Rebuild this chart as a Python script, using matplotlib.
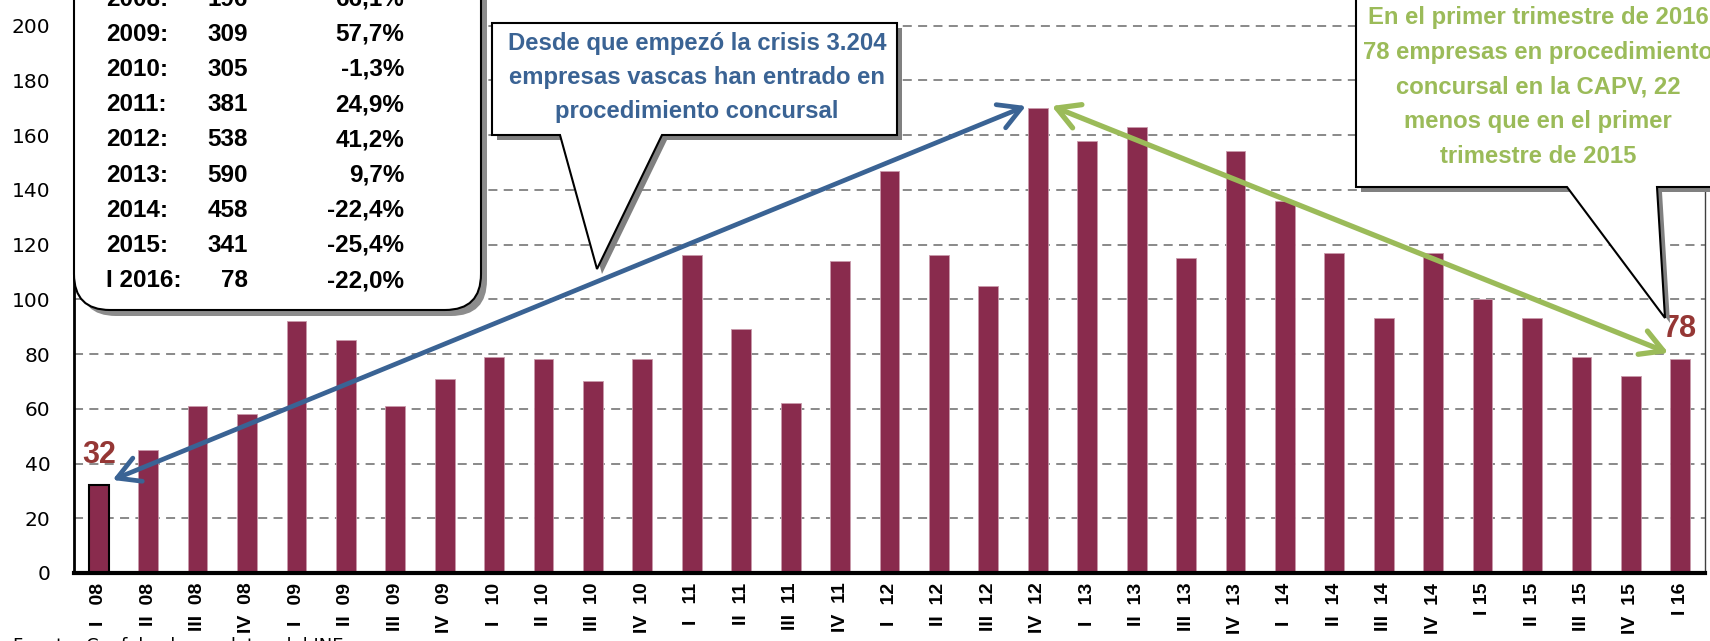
import matplotlib
matplotlib.use("Agg")
import matplotlib.pyplot as plt
from matplotlib import font_manager
from matplotlib.patches import FancyBboxPatch, Polygon

# quarterly number of Basque companies entering insolvency proceedings
quarters = [
    "I   08", "II  08", "III  08", "IV  08",
    "I   09", "II  09", "III  09", "IV  09",
    "I   10", "II  10", "III  10", "IV  10",
    "I   11", "II  11", "III  11", "IV  11",
    "I   12", "II  12", "III  12", "IV  12",
    "I   13", "II  13", "III  13", "IV  13",
    "I   14", "II  14", "III  14", "IV  14",
    "I 15", "II  15", "III  15", "IV  15",
    "I 16",
]
values = [
    32, 45, 61, 58,
    92, 85, 61, 71,
    79, 78, 70, 78,
    116, 89, 62, 114,
    147, 116, 105, 170,
    158, 163, 115, 154,
    136, 117, 93, 117,
    100, 93, 79, 72,
    78,
]

# yearly summary table
years = ["2008:", "2009:", "2010:", "2011:", "2012:", "2013:", "2014:", "2015:", "I 2016:"]
totals = [196, 309, 305, 381, 538, 590, 458, 341, 78]
changes = ["66,1%", "57,7%", "-1,3%", "24,9%", "41,2%", "9,7%", "-22,4%", "-25,4%", "-22,0%"]

blue_note = [
    "Desde que empezó la crisis 3.204",
    "empresas vascas han entrado en",
    "procedimiento concursal",
]
green_note = [
    "En el primer trimestre de 2016",
    "78 empresas en procedimiento",
    "concursal en la CAPV, 22",
    "menos que en el primer",
    "trimestre de 2015",
]

BAR = "#892B4D"
BLUE = "#3A6394"
GREEN = "#9BBB59"
RED = "#953735"


def pick_font(names):
    for name in names:
        try:
            font_manager.findfont(font_manager.FontProperties(family=name),
                                  fallback_to_default=False)
            return name
        except ValueError:
            pass
    return None


NARROW = pick_font(["Liberation Sans Narrow"])
NSCALE = 1.0
if NARROW is None:
    NARROW = "Liberation Sans"
    NSCALE = 0.82


def main() -> None:
    fig = plt.figure(figsize=(17.1, 6.41), dpi=100)
    ax = fig.add_axes([74 / 1710, 68 / 641, 1631 / 1710, 1.0249])

    x = list(range(len(values)))
    bars = ax.bar(x, values, width=0.4, color=BAR, edgecolor="#C99AAB",
                  linewidth=0.6, zorder=2)
    bars[0].set_edgecolor("black")
    bars[0].set_linewidth(1.5)

    ax.set_xlim(-0.5, len(values) - 0.5)
    ax.set_ylim(0, 240)
    ax.set_yticks(range(0, 201, 20))
    ax.set_xticks(x)
    ax.set_xticklabels(quarters, rotation=90, fontweight="bold",
                       family="Liberation Sans", fontsize=14)
    ax.tick_params(axis="x", length=0, pad=7)
    ax.tick_params(axis="y", length=0, pad=17, labelsize=14.5)

    ax.yaxis.grid(True, color="#808080", linestyle=(0, (5, 3.5)), linewidth=1.3)
    ax.set_axisbelow(True)
    ax.spines["top"].set_visible(False)
    ax.spines["left"].set_linewidth(2)
    ax.spines["bottom"].set_linewidth(3)
    ax.spines["right"].set_linewidth(1)
    ax.spines["right"].set_color("#404040")

    # first and last values
    ax.text(0, 43, str(values[0]), color=RED, fontsize=22, fontweight="bold",
            family="Liberation Sans", ha="center", va="center")
    ax.text(len(values) - 1, 89, str(values[-1]), color=RED, fontsize=22,
            fontweight="bold", family="Liberation Sans", ha="center", va="center")

    # double-headed arrows from the start to the peak and from the peak to now
    ax.annotate("", xy=(0.28, 34), xytext=(18.76, 170.6),
                arrowprops=dict(arrowstyle="<->,head_length=0.8,head_width=0.45",
                                color=BLUE, lw=3.4, shrinkA=0, shrinkB=0,
                                mutation_scale=20))
    ax.annotate("", xy=(31.76, 80.4), xytext=(19.28, 170.6),
                arrowprops=dict(arrowstyle="<->,head_length=0.8,head_width=0.45",
                                color=GREEN, lw=3.8, shrinkA=0, shrinkB=0,
                                mutation_scale=20))

    # overlay in pixel coordinates for the boxes
    ov = fig.add_axes([0, 0, 1, 1])
    ov.set_xlim(0, 1710)
    ov.set_ylim(641, 0)
    ov.axis("off")
    ov.patch.set_alpha(0)

    # summary table box
    for dx, col in ((6, "#8C8C8C"), (0, "white")):
        ov.add_patch(FancyBboxPatch((74 + dx, -80 + dx), 407, 390,
                                    boxstyle="round,pad=0,rounding_size=36",
                                    facecolor=col,
                                    edgecolor="black" if dx == 0 else col,
                                    linewidth=1.5 if dx == 0 else 0,
                                    zorder=3 if dx == 0 else 2))
    for k, (yr, tot, chg) in enumerate(zip(years, totals, changes)):
        base = -4.5 + 35.2 * k + 10
        kw = dict(family=NARROW, fontweight="bold", fontsize=21.3 * NSCALE,
                  va="baseline", zorder=4)
        ov.text(106, base, yr, ha="left", **kw)
        ov.text(248, base, str(tot), ha="right", **kw)
        ov.text(404, base, chg, ha="right", **kw)

    # blue callout
    blue_shape = [(492, 23), (897, 23), (897, 135), (662, 135), (597, 269),
                  (560, 135), (492, 135)]
    ov.add_patch(Polygon([(px + 5, py + 5) for px, py in blue_shape],
                         closed=True, facecolor="#808080", edgecolor="none",
                         zorder=2))
    ov.add_patch(Polygon(blue_shape, closed=True, facecolor="white",
                         edgecolor="black", linewidth=1.5, zorder=3))
    for k, line in enumerate(blue_note):
        ov.text(697, 50 + 34.2 * k, line, color=BLUE, family=NARROW,
                fontweight="bold", fontsize=21 * NSCALE, ha="center",
                va="baseline", zorder=4)

    # green callout
    green_shape = [(1356, -30), (1356, 187), (1567, 187), (1665, 318),
                   (1657, 187), (1730, 187), (1730, -30)]
    ov.add_patch(Polygon([(px + 5, py + 5) for px, py in green_shape],
                         closed=True, facecolor="#808080", edgecolor="none",
                         zorder=2))
    ov.add_patch(Polygon(green_shape, closed=True, facecolor="white",
                         edgecolor="black", linewidth=1.5, zorder=3))
    for k, line in enumerate(green_note):
        ov.text(1538, 24 + 34.7 * k, line, color=GREEN, family=NARROW,
                fontweight="bold", fontsize=21 * NSCALE, ha="center",
                va="baseline", zorder=4)

    # source, mostly cut off by the bottom edge
    ov.text(13, 637, "Fuente: Confebask con datos del INE", fontsize=13,
            ha="left", va="top")

    fig.savefig("out.png", dpi=100)


if __name__ == "__main__":
    main()
